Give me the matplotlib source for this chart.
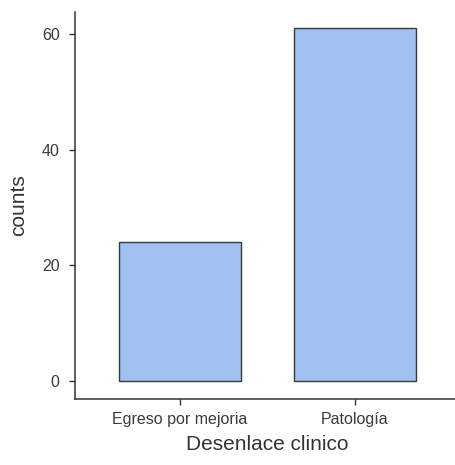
import matplotlib
matplotlib.use("Agg")
import matplotlib.pyplot as plt

categories = ["Egreso por mejoria", "Patología"]
counts = [24, 61]

plt.rcParams["font.family"] = ["Liberation Sans", "DejaVu Sans"]

fig = plt.figure(figsize=(4.55, 4.65), dpi=100)
ax = fig.add_axes([75 / 455, 66 / 465, 385 / 455, 387 / 465])

x = range(len(categories))
ax.bar(x, counts, width=0.7, color="#A0C0F0", edgecolor="#3a3a3a", linewidth=1.0)

ax.set_xlim(-0.6, 1.6)
ax.set_ylim(-3.1, 63.8)
ax.set_xticks(list(x))
ax.set_xticklabels(categories)
ax.set_yticks([0, 20, 40, 60])

for side in ("top", "right"):
    ax.spines[side].set_visible(False)
for side in ("left", "bottom"):
    ax.spines[side].set_color("#333333")
    ax.spines[side].set_linewidth(1.1)

ax.tick_params(axis="both", colors="#333333", length=4, width=1.0, labelsize=11.5)
ax.tick_params(axis="y", pad=7)
ax.tick_params(axis="x", pad=5)
ax.tick_params(axis="both", labelcolor="#3a3a3a")

ax.set_xlabel("Desenlace clinico", fontsize=15, color="#333333", labelpad=6)
ax.set_ylabel("counts", fontsize=15, color="#333333", labelpad=10)

fig.savefig("out.png", dpi=100)
